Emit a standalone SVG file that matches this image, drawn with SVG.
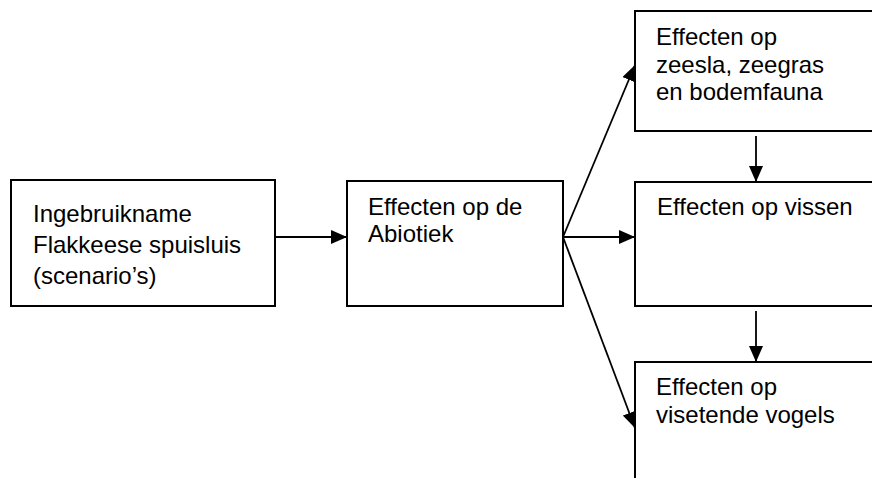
<svg xmlns="http://www.w3.org/2000/svg" width="872" height="478" viewBox="0 0 872 478">
<defs>
<marker id="ah" markerUnits="userSpaceOnUse" markerWidth="16" markerHeight="14" refX="16" refY="7" orient="auto">
<path d="M0,0 L16,7 L0,14 Z" fill="#000"/>
</marker>
<style>
.box{fill:#fff;stroke:#000;stroke-width:2}
.t{font-family:"Liberation Sans",Arial,sans-serif;font-size:24px;fill:#000}
.c{stroke:#000;stroke-width:1.8;fill:none;marker-end:url(#ah)}
</style>
</defs>
<rect width="872" height="478" fill="#fff"/>
<g id="n1">
<rect class="box" x="11" y="180" width="264" height="126"/>
<text class="t" x="33" y="222">Ingebruikname</text>
<text class="t" x="33" y="253">Flakkeese spuisluis</text>
<text class="t" x="33" y="284">(scenario’s)</text>
</g>
<g id="n2">
<rect class="box" x="347" y="181" width="216" height="125"/>
<text class="t" x="368" y="215">Effecten op de</text>
<text class="t" x="368" y="242">Abiotiek</text>
</g>
<g id="n3">
<rect class="box" x="635" y="11" width="250" height="120"/>
<text class="t" x="656" y="45">Effecten op</text>
<text class="t" x="656" y="72.5">zeesla, zeegras</text>
<text class="t" x="656" y="100">en bodemfauna</text>
</g>
<g id="n4">
<rect class="box" x="635" y="182" width="250" height="124"/>
<text class="t" x="657" y="215">Effecten op vissen</text>
</g>
<g id="n5">
<rect class="box" x="635" y="362" width="250" height="130"/>
<text class="t" x="656" y="395">Effecten op</text>
<text class="t" x="656" y="423">visetende vogels</text>
</g>
<g id="connectors">
<line class="c" x1="275" y1="237" x2="347" y2="237"/>
<line class="c" x1="563" y1="237" x2="635" y2="65"/>
<line class="c" x1="563" y1="237" x2="635" y2="237"/>
<line class="c" x1="563" y1="237" x2="635" y2="428"/>
<line class="c" x1="756" y1="136" x2="756" y2="182"/>
<line class="c" x1="756" y1="311" x2="756" y2="362"/>
</g>
</svg>
